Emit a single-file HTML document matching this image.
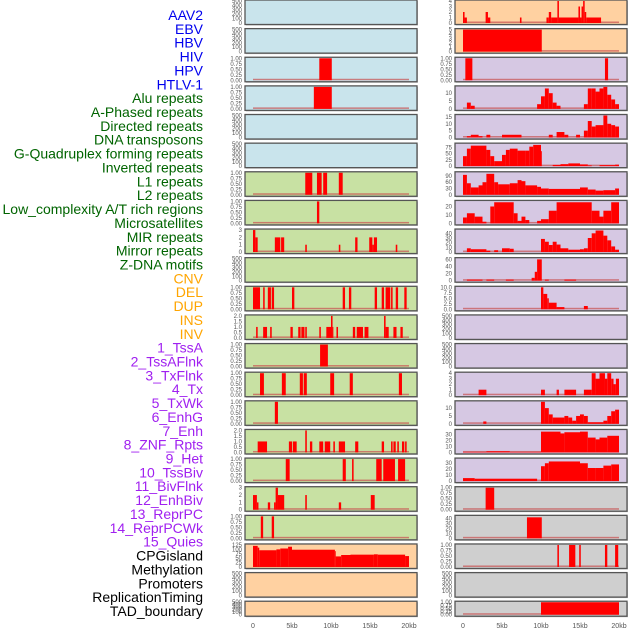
<!DOCTYPE html>
<html><head><meta charset="utf-8">
<style>
body{margin:0;background:#fff;width:630px;height:630px;overflow:hidden;font-family:"Liberation Sans",sans-serif}
svg{display:block}
</style></head>
<body>
<svg id="chart" width="630" height="630"></svg>
<script>
const labels = ["AAV2","EBV","HBV","HIV","HPV","HTLV-1","Alu repeats","A-Phased repeats","Directed repeats","DNA transposons","G-Quadruplex forming repeats","Inverted repeats","L1 repeats","L2 repeats","Low_complexity A/T rich regions","Microsatellites","MIR repeats","Mirror repeats","Z-DNA motifs","CNV","DEL","DUP","INS","INV","1_TssA","2_TssAFlnk","3_TxFlnk","4_Tx","5_TxWk","6_EnhG","7_Enh","8_ZNF_Rpts","9_Het","10_TssBiv","11_BivFlnk","12_EnhBiv","13_ReprPC","14_ReprPCWk","15_Quies","CPGisland","Methylation","Promoters","ReplicationTiming","TAD_boundary"];
const labelColors = ["#0000ee","#0000ee","#0000ee","#0000ee","#0000ee","#0000ee","#006400","#006400","#006400","#006400","#006400","#006400","#006400","#006400","#006400","#006400","#006400","#006400","#006400","#ffa500","#ffa500","#ffa500","#ffa500","#ffa500","#a020f0","#a020f0","#a020f0","#a020f0","#a020f0","#a020f0","#a020f0","#a020f0","#a020f0","#a020f0","#a020f0","#a020f0","#a020f0","#a020f0","#a020f0","#000","#000","#000","#000","#000"];
const xTicks = [0,5,10,15,20];
const xTickLabels = ["0","5kb","10kb","15kb","20kb"];
const T500=[0,100,200,300,400,500], T1=[0,0.25,0.5,0.75,1], T2=[0,0.5,1,1.5,2], T3=[0,1,2,3];
// left column tracks: [start kb, end kb, value]
const L01=[],L02=[];
const L03=[[8.5,10.1,1]];
const L04=[[7.8,10.1,1]];
const L05=[],L06=[];
const L07=[[6.7,7.6,1],[8.2,8.8,1],[9,9.5,1],[11,11.5,1]];
const L08=[[8.2,8.5,1]];
const L09=[[0,0.3,3],[0.3,0.6,2],[2.8,3.5,2],[3.6,4,2],[6.7,6.9,1],[11,11.2,1],[13.1,13.4,2],[14.9,15.3,2],[15.3,15.5,1],[15.5,15.9,2],[18.3,18.5,1]];
const L10=[];
const L11=[[0,0.9,1],[1.3,1.5,1],[1.9,2.3,1],[2.4,2.7,1],[5,5.3,1],[11.5,11.8,1],[12.3,12.6,1],[15.6,15.9,1],[16.5,16.8,1],[17,17.6,1],[17.7,17.9,1],[18.3,18.6,1],[19.4,19.7,1]];
const L12=[[0.4,0.6,1],[1.3,1.8,1],[2.2,2.4,1],[4.8,5.1,1],[5.8,6.1,1],[6.2,6.6,1],[6.7,6.9,1],[8.5,8.7,1],[9.4,10,1],[10,10.2,2],[10.2,10.3,1],[10.7,10.9,1],[12.8,13.1,1],[13.3,14.1,1],[14.3,14.8,1],[16.8,17,2],[17,17.4,1],[18,18.4,1],[18.9,19.2,1]];
const L13=[[8.6,9.6,1]];
const L14=[[0.9,1.4,1],[3.7,4.2,1],[6,6.4,1],[6.5,6.9,1],[9.9,10.4,1],[12.4,12.8,1],[18.7,19.1,1]];
const L15=[[2.8,3.2,1]];
const L16=[[0.6,1.8,1],[4.6,5,1],[5.1,5.6,1],[6.7,6.9,2],[7.3,7.6,1],[8.5,9,1],[9.2,9.9,1],[10.3,10.5,1],[11,11.8,1],[13.1,13.5,1],[16.5,16.8,1],[17.7,17.9,1],[18,18.3,1],[18.5,18.7,1],[19.1,19.4,1],[19.5,19.7,1]];
const L17=[[4.2,4.7,1],[11.5,11.9,1],[12.7,12.9,1],[15.8,16.5,1],[16.7,18.2,1],[18.6,19.5,1]];
const L18=[[0,0.5,2],[0.5,0.7,1],[1.9,2.2,1],[2.7,2.9,1],[2.9,3.2,3],[3.2,4,2],[6.7,6.9,2],[11,11.3,1],[15.1,15.6,2]];
const L19=[[1,1.3,1],[2.4,2.7,1]];
const L20=[[0,0.6,120],[0.6,0.8,110],[0.8,3,95],[3,3.5,100],[3.5,4.5,105],[4.5,5,115],[5,10.5,98],[10.5,10.6,90],[10.6,11.3,60],[11.3,12.5,68],[12.5,15.5,70],[15.5,16,72],[16,19.5,70],[19.5,20,62]];
const L21=[],L22=[];
// right column tracks
const R01=[[0,0.2,2],[0.2,0.5,1],[2.9,3.2,2],[3.2,3.5,1],[7.3,7.5,1],[10.7,11,1],[11,11.3,2],[11.3,12.1,1],[12.1,12.3,4],[12.3,14.8,1],[14.8,15,3],[15,15.2,1],[15.2,15.4,3],[15.4,15.6,4],[15.6,15.8,2],[15.8,17.7,1]];
const R02=[[0,10.1,5]];
const R03=[[0.3,1.2,1],[18.2,18.6,1]];
const R04=[[0.5,1,4],[1,1.5,2],[9.5,10,3],[10,10.5,8],[10.5,11,13],[11,11.5,10],[11.5,12,4],[12,12.5,2],[15.5,16,3],[16,16.5,13],[16.5,17,13],[17,17.5,11],[17.5,18,13],[18,18.5,14],[18.5,19,9],[19,19.5,6],[19.5,20,3]];
const R05=[[0.5,1,1],[1,2,2],[2,2.5,1],[3,3.5,2],[5,7.5,2],[11,11.5,2],[12,13,4],[13,13.5,2],[14.5,15,2],[15.5,16,5],[16,16.5,12],[16.5,17,8],[17,18,9],[18,18.5,16],[18.5,19,10],[19,19.5,9],[19.5,20,8]];
const R06=[[0,0.5,40],[0.5,1,70],[1,3,82],[3,3.5,65],[3.5,4,40],[4,5,20],[5,5.5,45],[5.5,6,65],[6,7,70],[7,8,62],[8,8.5,62],[8.5,9,78],[9,10,85],[10,10.1,60],[11.5,12.5,5],[12.5,13.5,8],[13.5,15,11],[15,16,7],[16,16.5,3],[17.5,19.5,4],[19.5,20,6]];
const R07=[[0,0.5,95],[0.5,1,55],[1,2,35],[2,2.5,45],[2.5,3,60],[3,4,100],[4,4.5,60],[4.5,5,50],[5,6,50],[6,7,55],[7,7.5,70],[7.5,8,65],[8,9.5,45],[9.5,10,38],[10,11,30],[11,15,28],[15,16,35],[16,17,25],[17,18,20],[18,19.5,22],[19.5,20,30]];
const R08=[[0,0.5,7],[0.5,1.5,12],[1.5,2.5,8],[2.5,3,2],[3.5,4,20],[4,6.5,25],[6.5,7,12],[7,7.5,3],[7.5,8,8],[8,8.5,4],[9.5,10,3],[10,11,5],[11,12,15],[12,16.5,25],[16.5,17.5,15],[17.5,18,8],[18,19,15],[19,20,25]];
const R09=[[0.5,1,8],[1,3,6],[3,3.5,3],[4,4.5,4],[5,6,8],[6,6.5,7],[10,10.5,28],[10.5,11,22],[11,11.5,15],[11.5,12,22],[12,12.5,16],[12.5,13.5,8],[13.5,15,5],[15,15.5,6],[15.5,16,8],[16,16.5,30],[16.5,17,40],[17,18,46],[18,18.5,35],[18.5,19,25],[19,19.5,12],[19.5,20,5]];
const R10=[[0.5,2.5,3],[3,4,3],[5.5,6.5,3],[8.8,9.2,8],[9.2,9.5,25],[9.5,10.1,60],[10.5,11,3],[13,14.5,3]];
const R11=[[10,10.3,10],[10.3,10.8,7],[10.8,11,5],[11,12,3],[12,13,1],[15.5,16,1.5]];
const R12=[],R13=[];
const R14=[[2,3,1],[10,10.5,1],[12,12.3,1],[13,14.5,1],[15.5,16.5,1],[16.5,17,4],[17,17.5,3],[17.5,18.2,4],[18.2,18.5,3],[18.5,19,4],[19,19.3,3],[19.3,19.6,2],[19.6,20,3]];
const R15=[[2.6,3,1.5],[10,10.5,14],[10.5,11,10],[11,11.5,6],[11.5,13,4],[13,13.5,5],[13.5,14,4],[14,14.5,2],[14.5,15,5],[15,15.5,6],[15.5,16,5],[16,18,1],[18,18.5,2],[18.5,19,5],[19,19.5,8],[19.5,20,9]];
const R16=[[0,3,1],[3,6,2],[6,10,1],[10,12.5,35],[12.5,13,32],[13,15,34],[15,16,35],[16,17,25],[17,17.5,22],[17.5,18.5,25],[18.5,20,28]];
const R17=[[0,1.5,5],[1.5,9.5,4],[10,10.5,25],[10.5,11,30],[11,15,33],[15,16,30],[16,17,22],[17,18,22],[18,19,26],[19,20,28]];
const R18=[[2.9,4,1]];
const R19=[[8.2,10.1,42]];
const R20=[[12.1,12.3,1],[13.6,14.4,1],[14.9,15.1,1],[18.2,18.5,1],[19.5,19.9,1]];
const R21=[];
const R22=[[10,20,1]];
// per-panel y ranges and ticks
const leftMax=[500,500,1,1,500,500,1,1,3,500,1,2,1,1,1,2,1,3,1,125,500,500];
const leftTicks=[T500,T500,T1,T1,T500,T500,T1,T1,T3,T500,T1,T2,T1,T1,T1,T2,T1,T3,T1,[0,25,50,75,100,125],T500,T500];
const rightMax=[4,5,1,14,16,88,105,26,47,62,10,500,500,4,14,37,37,1,44,1,500,1];
const rightTicks=[[0,1,2,3,4],[0,1,2,3,4,5],T1,[0,5,10],[0,5,10,15],[0,25,50,75],[0,30,60,90],[0,10,20],[0,10,20,30,40],[0,20,40,60],[0,2.5,5,7.5,10],T500,T500,[0,1,2,3,4],[0,5,10],[0,10,20,30],[0,10,20,30],T1,[0,10,20,30,40],T1,T500,T1];
const leftData=[L01,L02,L03,L04,L05,L06,L07,L08,L09,L10,L11,L12,L13,L14,L15,L16,L17,L18,L19,L20,L21,L22];
const rightData=[R01,R02,R03,R04,R05,R06,R07,R08,R09,R10,R11,R12,R13,R14,R15,R16,R17,R18,R19,R20,R21,R22];
const BG={b:"#c9e4ec",g:"#c8e1a3",o:"#ffd1a1",p:"#d6c8e3",s:"#cfcfcf"};
const leftBg="bbbbbbgggggggggggggooo";
const rightBg="oopppppppppppppppsssss";

const svg=document.getElementById('chart');
const NS="http://www.w3.org/2000/svg";
function mk(tag,attrs,parent){const e=document.createElementNS(NS,tag);for(const k in attrs)e.setAttribute(k,attrs[k]);(parent||svg).appendChild(e);return e;}
function fmt(v,ticks){const dec=ticks.some(t=>t%1!==0);if(!dec)return String(v);const d=ticks.some(t=>(t*4)%1===0&&(t*2)%1!==0)?2:1;return v.toFixed(d);}

labels.forEach((t,i)=>{
  const e=mk('text',{x:203,y:20+i*13.86,'text-anchor':'end','font-size':'14',fill:labelColors[i]});
  
  
  e.textContent=t;
});

function panel(x0,top,h,bgc,max,ticks,segs,name){
  const g=mk('g',{});
  
  
  mk('rect',{x:x0+1,y:top+1,width:172,height:h,fill:'#999',opacity:0.6},g);
  mk('rect',{x:x0,y:top,width:172,height:h,fill:bgc,stroke:'#555','stroke-width':1.3},g);
  const yb=top+h-1.5, yt=top+1;
  const ys=v=>yb-(v/max)*(yb-yt);
  const xs=k=>x0+8+k*7.8;
  ticks.forEach(t=>{
    const e=mk('text',{x:x0-3,y:ys(t)+2,'text-anchor':'end','font-size':'6',fill:'#555'},g);
    
    
    e.textContent=fmt(t,ticks);
  });
  if(max<=125){
    const bl=mk('rect',{x:xs(0),y:yb-1.5,width:xs(20)-xs(0),height:1.5,fill:'#c85050',opacity:0.7},g);
    
    
  }
  segs.forEach(s=>{
    const r=mk('rect',{x:xs(s[0]),y:ys(s[2]),width:Math.max(0.8,xs(s[1])-xs(s[0])),height:yb-ys(s[2]),fill:'#ff0000'},g);
    
    
  });
}
for(let i=0;i<22;i++){
  const top=i*28.63, h=i===21?15:24.5;
  panel(245,top,h,BG[leftBg[i]],leftMax[i],leftTicks[i],leftData[i],'left-track-panel-'+(i+1));
  panel(455,top,h,BG[rightBg[i]],rightMax[i],rightTicks[i],rightData[i],'right-track-panel-'+(i+1));
}
[245,455].forEach(x0=>{
  xTicks.forEach((k,j)=>{
    const e=mk('text',{x:x0+8+k*7.8,y:628,'text-anchor':'middle','font-size':'7',fill:'#555'});
    
    
    e.textContent=xTickLabels[j];
  });
});
</script>
</body></html>
